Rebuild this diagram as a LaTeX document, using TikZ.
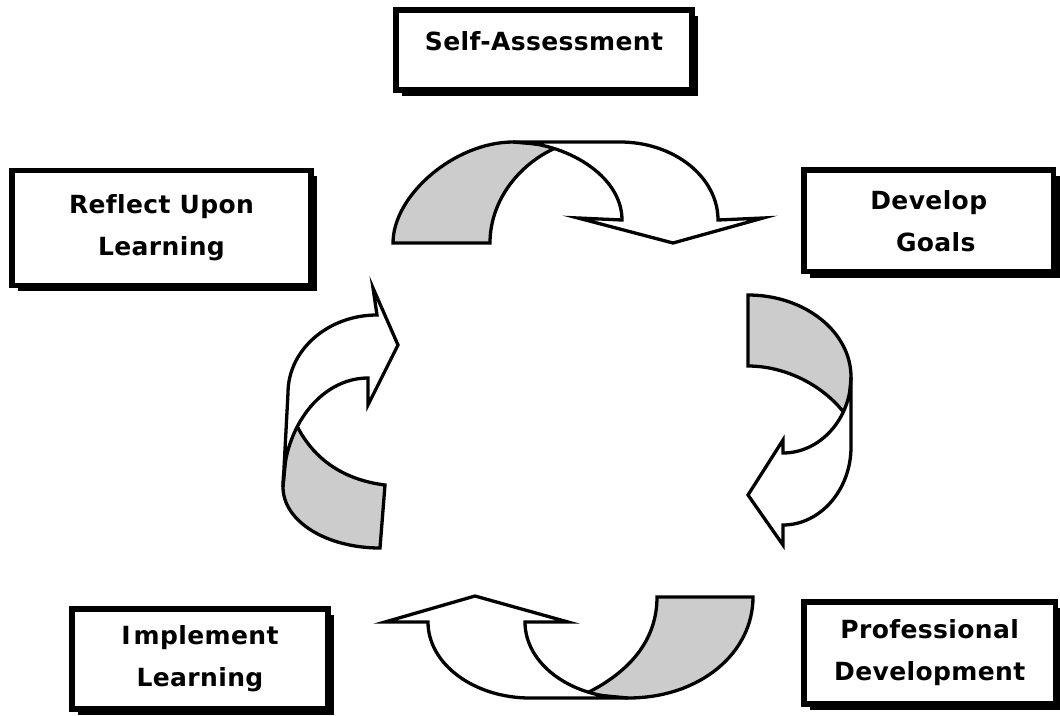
\documentclass[tikz,border=0pt]{standalone}
\usepackage{fontspec}
\setmainfont{DejaVu Sans}
\newfontfamily\boxfont{DejaVu Sans}[LetterSpace=1.5,Ligatures=CommonOff]
\usetikzlibrary{shadows}
\definecolor{ribgray}{RGB}{204,204,204}
\begin{document}
\begin{tikzpicture}[x=1pt,y=-1pt,
  box/.style={draw=black, line width=5.5pt, fill=white, align=center,
    font=\boxfont\bfseries\fontsize{25}{42}\selectfont, inner sep=0pt,
    general shadow={fill=black, shadow xshift=6pt, shadow yshift=-6pt}},
  back/.style={fill=ribgray, draw=black, line width=3.3pt, line join=miter},
  front/.style={fill=white, draw=black, line width=3.3pt, line join=miter}]
\useasboundingbox (0,0) rectangle (1060,715);

% boxes
\node[box, minimum width=296pt, minimum height=80pt, text height=18pt, text depth=18pt] (self) at (544,50) {Self-Assessment};
\node[box, minimum width=299pt, minimum height=115pt] (reflect) at (161.5,227.75) {Reflect Upon\\Learning};
\node[box, minimum width=249.5pt, minimum height=101.5pt] (goals) at (928.75,220.75) {Develop\\\hspace*{14pt}Goals};
\node[box, minimum width=251.5pt, minimum height=102pt] (prof) at (929.75,653) {Professional\\Development};
\node[box, minimum width=256pt, minimum height=100pt] (impl) at (200,659) {I\kern3pt mplement\\Learning};

% arrow 1 (top): Reflect -> Develop
\path[back] (393,243) .. controls (393,195) and (455,142) .. (513,142) -- (560,146)
  .. controls (520,162) and (490,200) .. (490,243) -- cycle;
\path[front] (513,142) -- (620,142) .. controls (674,142) and (718,177) .. (718,220)
  -- (763,218) -- (673,243) -- (578,218) -- (622,220)
  .. controls (622,175) and (565,142) .. cycle;

% arrow 2 (right): Develop -> Professional
\path[back] (748,295) .. controls (805,295) and (851,332) .. (851,377) -- (848,418)
  .. controls (825,385) and (785,366) .. (748,366) -- cycle;
\path[front] (851,377) -- (851,447) .. controls (851,490) and (820,525) .. (783,525)
  -- (783,545) -- (748,495) -- (783,440) -- (783,453)
  .. controls (820,453) and (851,419) .. cycle;

% arrow 3 (bottom): Professional -> Implement
\path[back] (753,597) .. controls (753,653) and (700,698) .. (628,698) -- (585,694)
  .. controls (630,672) and (657,640) .. (657,597) -- cycle;
\path[front] (628,698) -- (530,698) .. controls (474,698) and (428,664) .. (428,622)
  -- (385,622) -- (475,596) -- (568,622) -- (525,622)
  .. controls (525,664) and (571,698) .. cycle;

% arrow 4 (left): Implement -> Reflect
\path[back] (283,487) .. controls (283,521) and (326,548) .. (380,548) -- (385,485)
  .. controls (345,480) and (310,460) .. (292,415) -- (287,445) -- cycle;
\path[front] (283,487) -- (288,393) .. controls (288,350) and (328,315) .. (377,315)
  -- (373,288) -- (398,345) -- (368,405) -- (368,378)
  .. controls (321,378) and (283,427) .. cycle;
\end{tikzpicture}
\end{document}
